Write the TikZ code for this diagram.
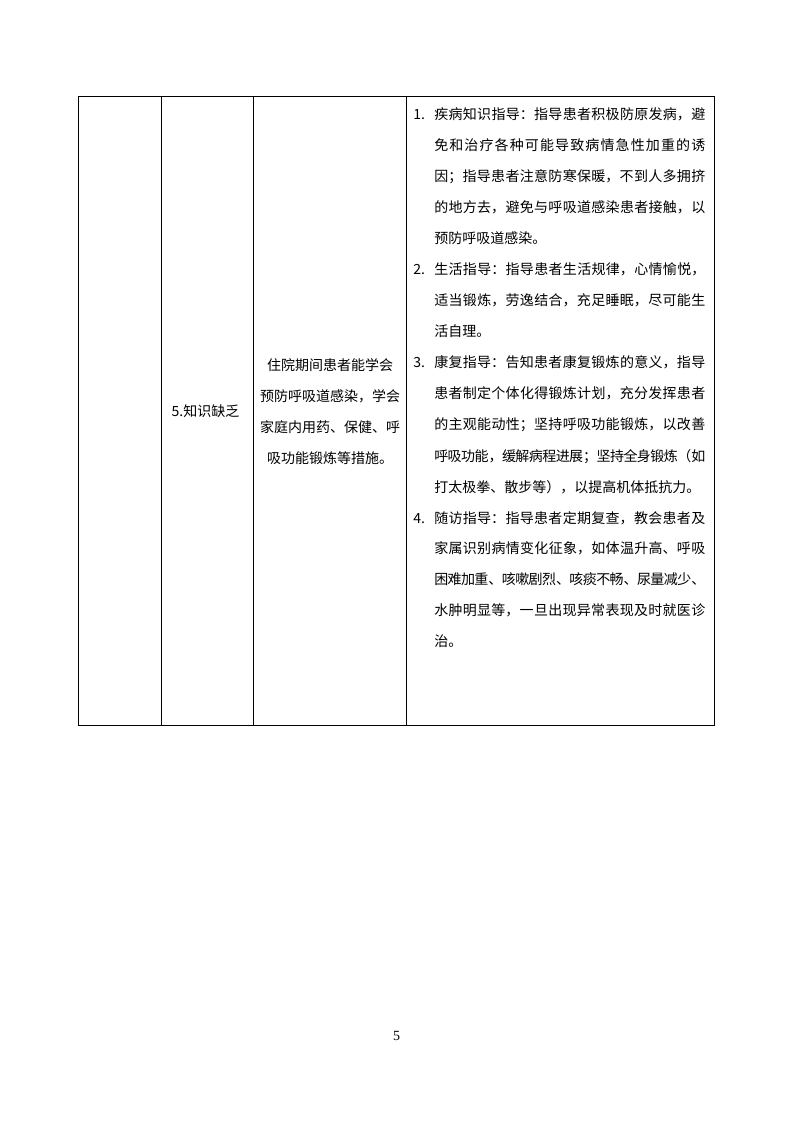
\documentclass[tikz,border=0pt]{standalone}
\usepackage{fontspec}
\setmainfont{Noto Sans CJK SC}
\newfontfamily\pagenumfont{Liberation Serif}
\XeTeXlinebreaklocale "zh"
\XeTeXlinebreakskip=0pt plus 2pt minus 1pt

\tikzset{
  rule/.style={black,line width=0.75pt},
  cell/.style={inner sep=0pt,font=\fontsize{10.5pt}{23.25pt}\selectfont},
}
\newcommand{\itemno}[1]{\hangindent=15.75pt\hangafter=1\noindent\makebox[15.75pt][l]{#1}}

\begin{document}
\begin{tikzpicture}[x=0.75pt,y=-0.75pt]
                \useasboundingbox (0,0) rectangle (794,1123);

                % table frame and column rules
                \draw[rule] (78.3,96.5) rectangle (714,725);
                \draw[rule] (161.3,96.5) -- (161.3,725);
                \draw[rule] (253.7,96.5) -- (253.7,725);
                \draw[rule] (406,96.5) -- (406,725);

                \node[cell] (problem) at (205.5,411) {5.知识缺乏};
                \node[cell,align=center] (goal) at (330,411.5)
                    {住院期间患者能学会\\预防呼吸道感染，学会\\家庭内用药、保健、呼\\吸功能锻炼等措施。};

                \node[cell,anchor=base west,text width=219pt,align=justify] (measures) at (413,120) {%
\itemno{1.}疾病知识指导：指导患者积极防原发病，避\linebreak 免和治疗各种可能导致病情急性加重的诱\linebreak 因；指导患者注意防寒保暖，不到人多拥挤\linebreak 的地方去，避免与呼吸道感染患者接触，以\linebreak 预防呼吸道感染。\par
\itemno{2.}生活指导：指导患者生活规律，心情愉悦，\linebreak 适当锻炼，劳逸结合，充足睡眠，尽可能生\linebreak 活自理。\par
\itemno{3.}康复指导：告知患者康复锻炼的意义，指导\linebreak 患者制定个体化得锻炼计划，充分发挥患者\linebreak 的主观能动性；坚持呼吸功能锻炼，以改善\linebreak 呼吸功能，缓解病程进展；坚持全身锻炼（如\linebreak 打太极拳、散步等），以提高机体抵抗力。\par
\itemno{4.}随访指导：指导患者定期复查，教会患者及\linebreak 家属识别病情变化征象，如体温升高、呼吸\linebreak 困难加重、咳嗽剧烈、咳痰不畅、尿量减少、\linebreak 水肿明显等，一旦出现异常表现及时就医诊\linebreak 治。\par};

                \node[inner sep=0pt,font=\pagenumfont\fontsize{10.5pt}{12pt}\selectfont] (pageno) at (396.5,1036) {5};

            \end{tikzpicture}
\end{document}
